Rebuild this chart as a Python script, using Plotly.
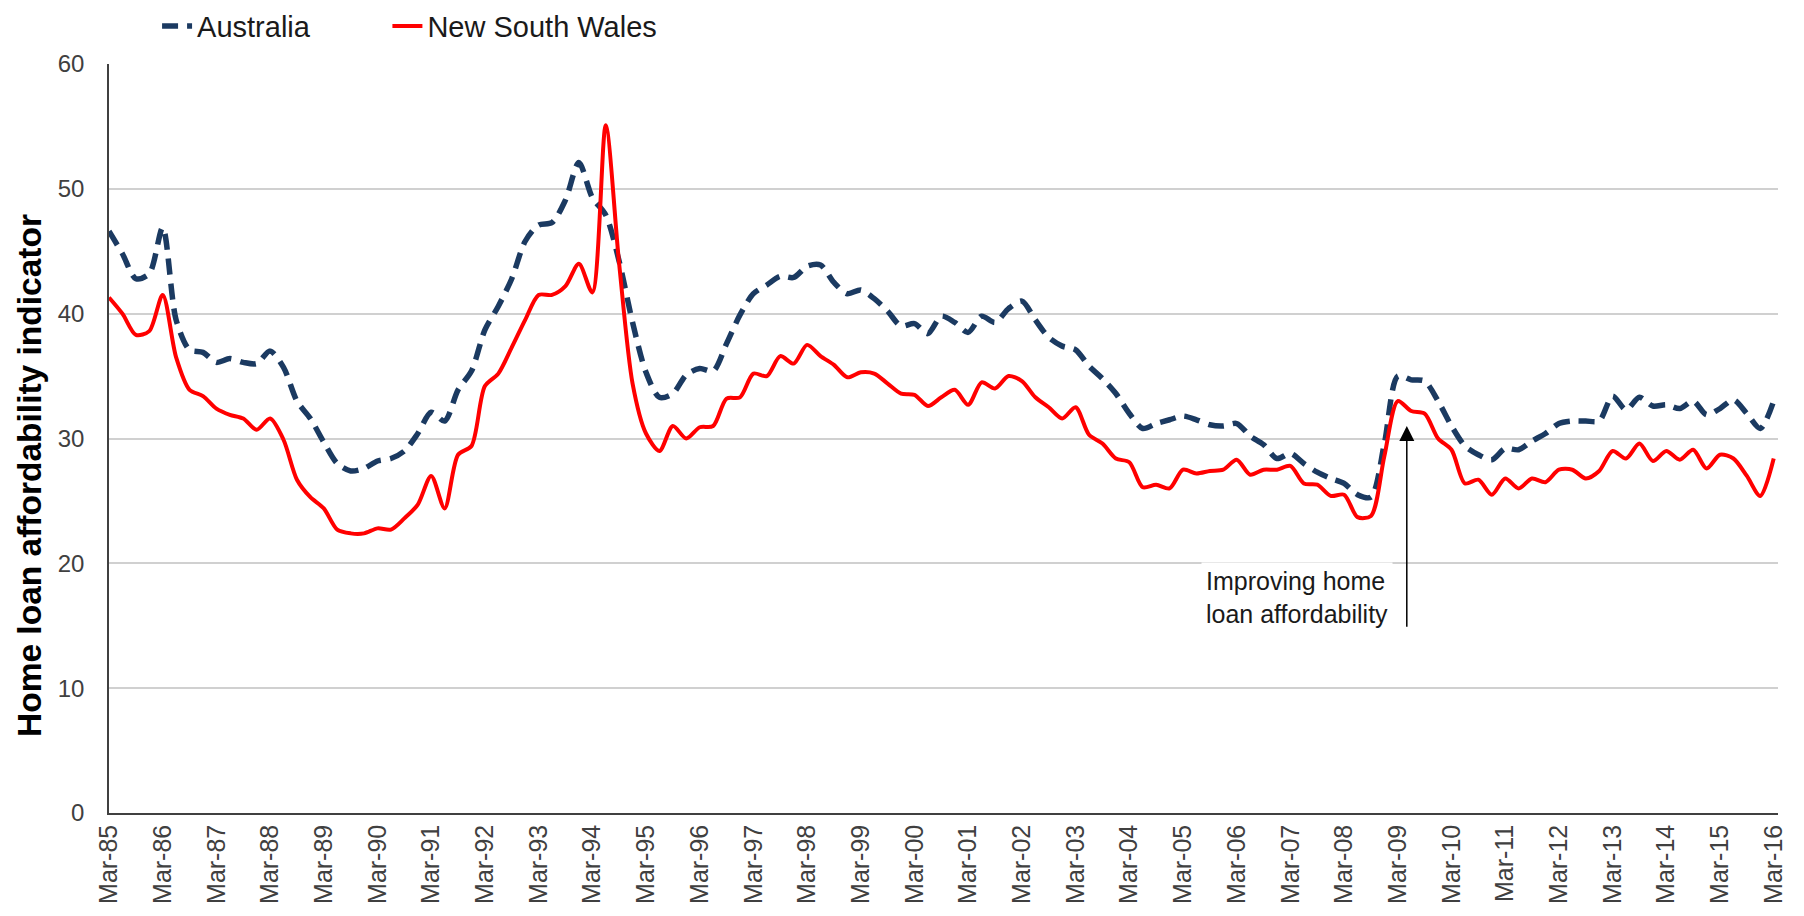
import plotly.graph_objects as go

# Quarterly categories Mar-85 .. Mar-16
months = ["Mar", "Jun", "Sep", "Dec"]
quarters = []
for yr in range(1985, 2017):
    for m in months:
        quarters.append(f"{m}-{yr % 100:02d}")
quarters = quarters[:125]  # ends at Mar-16
tick_labels = [q for q in quarters if q.startswith("Mar")]

australia = [
    46.6, 44.8, 42.8, 43.2, 46.9, 39.5, 37.1, 36.9, 36.1, 36.4,
    36.1, 36.0, 37.0, 35.7, 33.0, 31.6, 29.7, 28.0, 27.4, 27.6,
    28.2, 28.4, 29.0, 30.4, 32.1, 31.4, 33.9, 35.4, 38.7, 40.6,
    42.8, 45.8, 47.1, 47.3, 49.1, 52.1, 49.3, 47.9, 44.2, 39.3,
    35.3, 33.3, 33.6, 35.1, 35.6, 35.4, 37.6, 39.9, 41.6, 42.3,
    43.0, 42.9, 43.8, 43.9, 42.5, 41.6, 41.9, 41.2, 40.2, 39.0,
    39.2, 38.4, 39.8, 39.3, 38.5, 39.8, 39.3, 40.4, 41.0, 39.5,
    38.1, 37.4, 37.1, 35.8, 34.8, 33.6, 32.0, 30.8, 31.2, 31.5,
    31.8, 31.5, 31.1, 31.0, 31.2, 30.2, 29.5, 28.4, 28.8, 28.0,
    27.3, 26.8, 26.4, 25.5, 25.3, 29.6, 35.0, 34.7, 34.6, 33.0,
    31.0, 29.4, 28.7, 28.3, 29.2, 29.1, 29.8, 30.4, 31.2, 31.4,
    31.4, 31.4, 33.4, 32.3, 33.3, 32.6, 32.7, 32.4, 33.0, 31.9,
    32.4, 33.1, 32.0, 30.8, 33.0,
]

nsw = [
    41.3, 40.0, 38.3, 38.6, 41.5, 36.5, 33.9, 33.4, 32.4, 31.9,
    31.6, 30.7, 31.6, 29.9, 26.7, 25.3, 24.4, 22.7, 22.4, 22.4,
    22.8, 22.7, 23.6, 24.7, 27.0, 24.4, 28.7, 29.4, 34.2, 35.2,
    37.3, 39.5, 41.5, 41.5, 42.2, 44.0, 41.7, 55.1, 44.0, 34.4,
    30.4, 29.0, 31.0, 30.0, 30.9, 31.0, 33.2, 33.3, 35.2, 35.0,
    36.6, 36.0, 37.5, 36.6, 35.9, 34.9, 35.3, 35.2, 34.4, 33.6,
    33.5, 32.6, 33.3, 33.9, 32.7, 34.5, 34.0, 35.0, 34.6, 33.3,
    32.5, 31.6, 32.5, 30.3, 29.6, 28.4, 28.1, 26.1, 26.3, 26.0,
    27.5, 27.2, 27.4, 27.5, 28.3, 27.1, 27.5, 27.5, 27.8, 26.4,
    26.3, 25.4, 25.5, 23.7, 23.8, 28.6, 33.0, 32.2, 32.0, 30.0,
    29.1, 26.4, 26.7, 25.5, 26.8, 26.0, 26.8, 26.5, 27.5, 27.5,
    26.8, 27.4, 29.0, 28.4, 29.6, 28.2, 29.0, 28.3, 29.1, 27.6,
    28.7, 28.4, 27.0, 25.4, 28.4,
]

FONT = "Liberation Sans, Arial, sans-serif"
NBSP = "\u00a0"

fig = go.Figure()
fig.add_trace(go.Scatter(
    x=quarters, y=australia, name="Australia" + NBSP * 9, mode="lines",
    line=dict(color="#1B3A61", width=5.5, dash="16px,9px", shape="spline", smoothing=0.8),
))
fig.add_trace(go.Scatter(
    x=quarters, y=nsw, name="New South Wales", mode="lines",
    line=dict(color="#FF0000", width=4, shape="spline", smoothing=0.8),
))

fig.update_layout(
    width=1796, height=908,
    margin=dict(l=101, r=26, t=56, b=103, autoexpand=False),
    plot_bgcolor="white", paper_bgcolor="white",
    font=dict(family=FONT, color="#262626"),
    showlegend=True,
    legend=dict(
        orientation="h", x=0.0288, y=1.0507, xanchor="left", yanchor="middle",
        font=dict(size=29, family=FONT, color="#1a1a1a"),
        bgcolor="rgba(0,0,0,0)",
    ),
)

fig.update_xaxes(
    type="category", range=[0, 124.32],
    tickmode="array", tickvals=tick_labels, ticktext=tick_labels,
    tickangle=-90, tickfont=dict(size=25, family=FONT, color="#404040"),
    showgrid=False, showline=True, linecolor="#404040", linewidth=1.5,
    ticks="", zeroline=False, automargin=False,
)
fig.update_yaxes(
    range=[0, 60], dtick=10, tickfont=dict(size=24, family=FONT, color="#404040"),
    showgrid=True, gridcolor="#D0D0D0", gridwidth=1.5,
    showline=True, linecolor="#404040", linewidth=1.5,
    ticks="", zeroline=False, ticklabelstandoff=18, automargin=False,
)

# y-axis title
fig.add_annotation(
    text="<b>Home loan affordability indicator</b>", textangle=-90,
    xref="paper", yref="paper", x=-0.0473, y=0.45, xanchor="center", yanchor="middle",
    showarrow=False, font=dict(size=33.5, family=FONT, color="#000000"),
)

# arrow
fig.add_annotation(
    x=quarters[96], y=31.0, ax=quarters[96], ay=14.8,
    xref="x", yref="y", axref="x", ayref="y", xshift=9,
    text="", showarrow=True, arrowhead=2, arrowsize=2, arrowwidth=1.5,
    arrowcolor="#000000",
)

# annotation text
fig.add_annotation(
    text="Improving home<br>loan affordability",
    x=quarters[82], y=17.3, xref="x", yref="y", xanchor="left", yanchor="middle",
    xshift=-9, align="left", showarrow=False, bgcolor="white", borderpad=4,
    font=dict(size=25, family=FONT, color="#1a1a1a"),
)

fig.write_html("out.html")
